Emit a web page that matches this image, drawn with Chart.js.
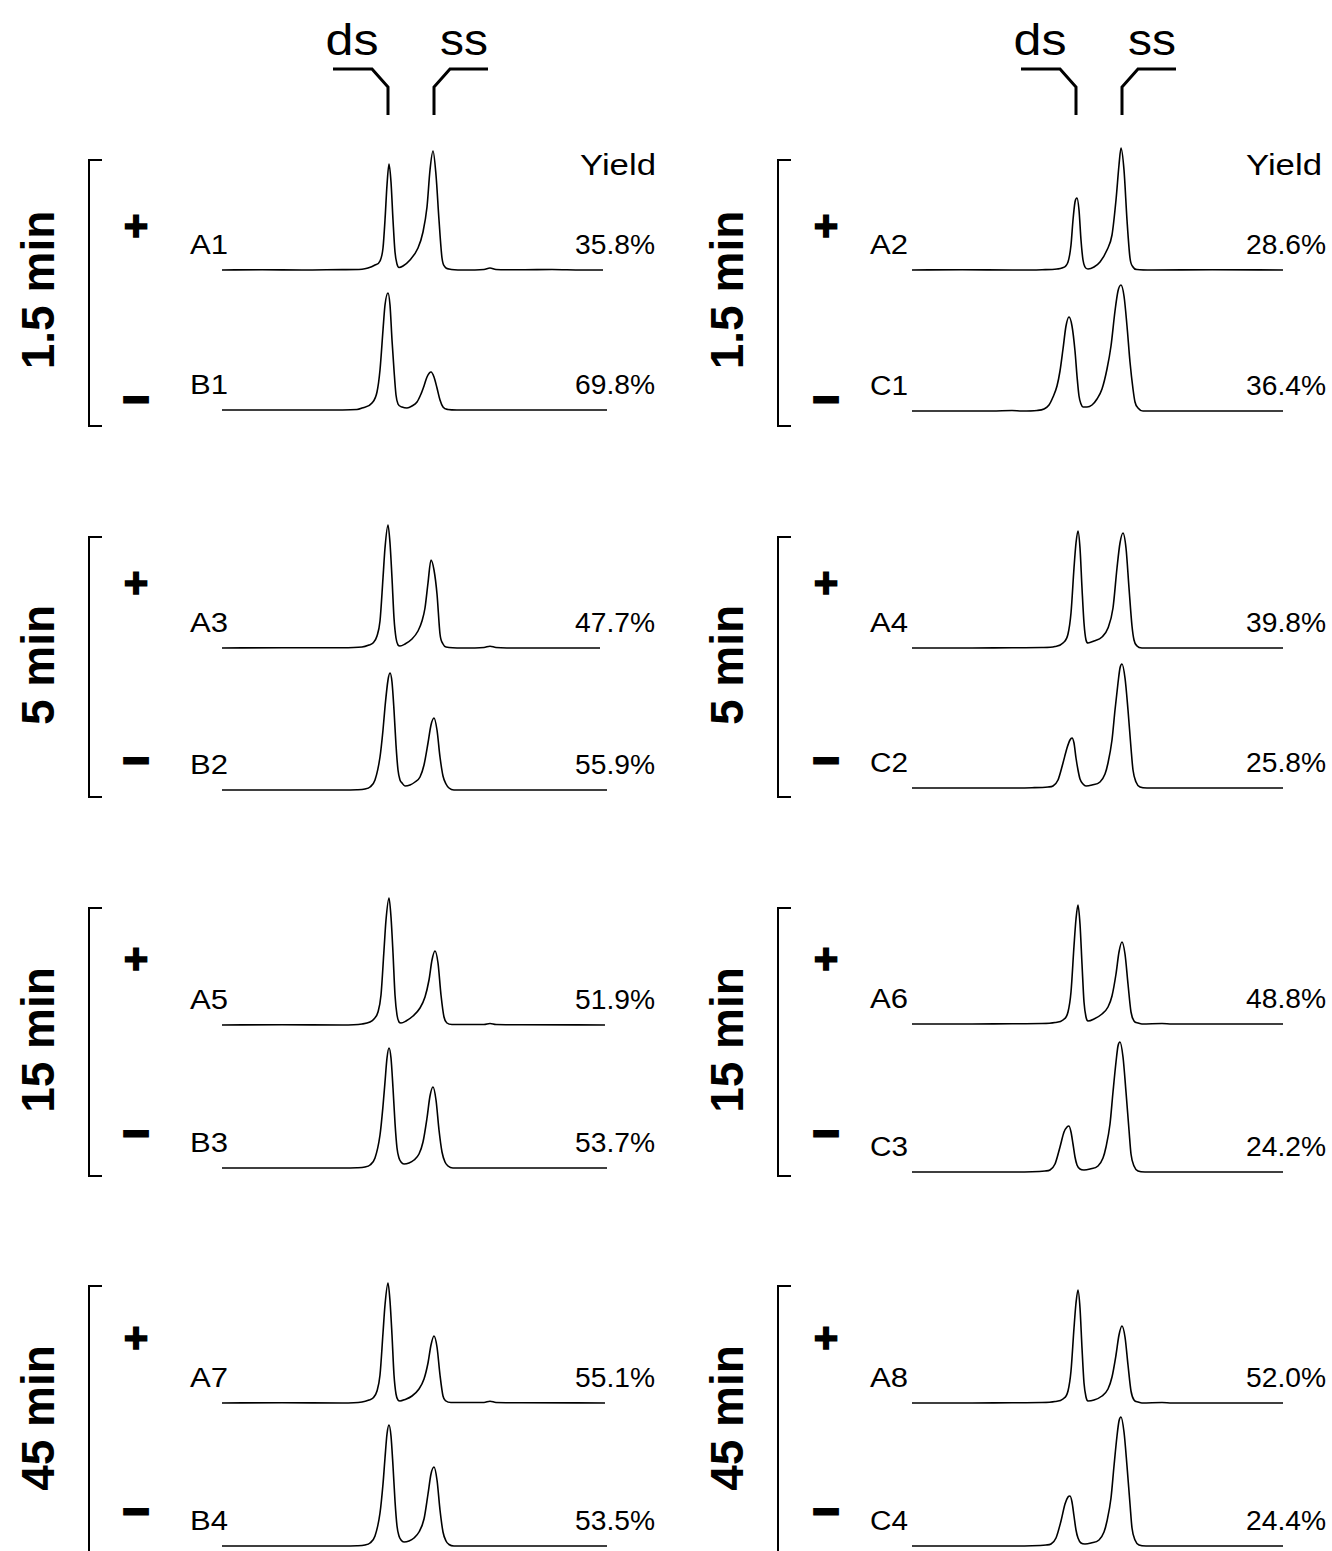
<!DOCTYPE html>
<html>
<head>
<meta charset="utf-8">
<script src="https://cdn.jsdelivr.net/npm/chart.js@4/dist/chart.umd.min.js"></script>
<style>
  html, body { margin: 0; padding: 0; background: #fff; }
  #page { position: relative; width: 1332px; height: 1551px; overflow: hidden; }
  #page canvas { position: absolute; }
  #overlay { position: absolute; left: 0; top: 0; }
  text { font-family: "Liberation Sans", Arial, sans-serif; fill: #000; }
</style>
</head>
<body>
<div id="page"><svg id="overlay" width="1332" height="1551"></svg></div>
<script>
/* ---------- data: traces ([retention, signal]) ---------- */

// left column, "+" runs
const A1 = [[0,0],[40,0.3],[80,0],[120,0.4],[140,0.8],[146,2],[153,5],[158,9],[161,22],[163,50],[165,85],[167,106],[169,88],[171,50],[173,18],[175,6],[177,2.5],[181,4],[188,10],[196,22],[201,38],[205,63],[208,100],[211,119],[214,95],[217,50],[220,12],[223,3],[227,1],[240,0],[262,0.5],[268,2],[274,0.5],[300,0.2],[330,0.5],[360,0],[381,0]];
const A3 = [[0,0],[60,0.3],[120,0.3],[140,1],[147,3],[151,5],[155,12],[158,27],[161,70],[163,100],[166,123],[168,105],[170,70],[172,30],[174,10],[176,3],[178,2],[183,4],[190,9],[196,17],[200,27],[203,40],[206,65],[209,88],[212,78],[215,54],[218,14],[221,4],[224,1],[240,0],[262,0.5],[268,1.8],[274,0.5],[300,0],[378,0]];
const A5 = [[0,0],[60,0.3],[120,0],[140,1],[148,3],[152,6],[156,13],[159,30],[162,75],[164,105],[167,127],[169,108],[171,72],[173,30],[175,10],[177,3],[179,2],[184,4],[191,9],[198,17],[203,28],[207,45],[210,65],[213,74],[216,62],[219,30],[222,8],[225,2],[230,0.5],[262,0.5],[268,1.5],[274,0.5],[300,0.3],[383,0]];
const A7 = [[0,0],[60,0.3],[120,0],[140,1],[147,3],[151,5],[155,12],[158,28],[161,70],[163,98],[166,120],[168,102],[170,68],[172,28],[174,9],[176,3],[178,2],[183,3.5],[190,7],[197,14],[202,24],[206,40],[209,58],[212,67],[215,56],[218,28],[221,7],[224,2],[229,0.5],[262,0.5],[268,1.8],[274,0.5],[300,0.3],[383,0]];

// left column, "-" runs
const B1 = [[0,0],[100,0],[135,0.5],[140,2],[150,7],[155,18],[158,40],[161,80],[163,105],[166,117],[168,105],[170,70],[172,40],[174,15],[176,6],[180,3],[185,2],[190,4],[195,8],[199,16],[202,24],[205,33],[209,38],[212,33],[215,22],[218,10],[221,3],[226,0.5],[235,0],[385,0]];
const B2 = [[0,0],[100,0],[135,0.3],[143,1],[148,3],[153,10],[158,33],[161,60],[163,83],[166,110],[168,117],[170,108],[172,80],[174,45],[176,20],[178,10],[180,7],[183,4],[188,5],[193,8],[198,13],[202,25],[206,47],[209,65],[212,72],[215,60],[218,33],[221,14],[224,6],[227,2],[232,0],[290,0],[385,0]];
const B3 = [[0,0],[100,0],[135,0.3],[143,1],[148,3],[153,10],[158,33],[161,62],[163,86],[165,110],[167,120],[169,110],[171,80],[173,45],[175,20],[177,10],[179,6],[182,4],[187,5],[192,8],[197,14],[201,26],[205,50],[208,72],[211,81],[214,68],[217,38],[220,16],[223,6],[226,2],[231,0],[290,0],[385,0]];
const B4 = [[0,0],[100,0],[135,0.3],[143,1],[148,3],[153,10],[158,33],[161,62],[163,88],[165,112],[167,121],[169,110],[171,80],[173,45],[175,20],[177,10],[179,6],[182,4],[187,5],[192,8],[197,14],[202,27],[206,52],[209,72],[212,79],[215,66],[218,36],[221,14],[224,5],[227,1.5],[232,0],[290,0],[385,0]];

// right column, "+" runs
const A2 = [[0,0],[50,0.3],[100,0],[130,0.3],[145,1],[150,2],[156,8],[159,25],[161,50],[163,68],[165,72],[167,60],[169,30],[171,10],[173,3],[176,1],[182,3],[188,8],[195,20],[200,35],[204,70],[207,105],[209,122],[212,100],[215,50],[218,12],[221,3],[225,0.5],[240,0],[300,0.3],[371,0]];
const A4 = [[0,0],[60,0],[100,0.3],[130,0.5],[143,1.5],[151,5],[156,14],[159,35],[162,80],[164,105],[166,117],[168,100],[170,60],[172,25],[174,8],[176,5],[182,7],[190,11],[196,20],[201,40],[205,80],[208,105],[211,115],[214,100],[217,60],[220,22],[222,8],[225,2],[230,0],[371,0]];
const A6 = [[0,0],[60,0],[100,0.3],[130,0.5],[143,1.5],[151,4],[156,12],[159,32],[162,78],[164,105],[166,119],[168,100],[170,60],[172,22],[174,7],[176,3],[182,5],[190,10],[196,17],[200,28],[204,50],[207,72],[210,82],[213,70],[216,40],[219,12],[222,3],[226,1],[230,0],[250,0.5],[260,0],[371,0]];
const A8 = [[0,0],[60,0],[100,0.3],[130,0.5],[143,1.5],[151,4],[156,12],[159,32],[162,75],[164,100],[166,113],[168,95],[170,55],[172,20],[174,6],[176,2],[182,3],[190,7],[196,14],[200,26],[204,48],[207,68],[210,77],[213,66],[216,38],[219,12],[222,3],[226,1],[230,0],[250,0.5],[260,0],[371,0]];

// right column, "-" runs
const C1 = [[0,0],[80,0],[100,0.5],[110,0],[125,0.5],[132,2],[137,6],[141,14],[145,25],[148,40],[151,62],[154,85],[157,94],[160,85],[163,60],[165,35],[167,15],[169,7],[171,4],[175,4],[180,6],[185,12],[190,22],[195,42],[199,65],[203,100],[206,120],[209,126],[212,115],[215,85],[218,49],[221,22],[223,9],[226,3],[231,0],[371,0]];
const C2 = [[0,0],[80,0],[120,0.3],[136,1],[141,2],[146,8],[151,25],[155,40],[158,48],[160,50],[162,45],[164,30],[166,18],[168,9],[171,4],[174,2],[180,3],[188,6],[193,14],[196,25],[200,48],[203,78],[206,105],[208,120],[210,124],[213,110],[216,78],[219,40],[221,18],[224,6],[228,1],[235,0],[371,0]];
const C3 = [[0,0],[80,0],[120,0.3],[133,1],[138,2],[143,8],[148,25],[152,40],[155,45],[157,46],[159,40],[161,28],[163,15],[165,7],[168,3],[172,2],[178,3],[186,6],[191,14],[194,25],[198,48],[201,80],[204,110],[206,126],[208,130],[211,115],[214,80],[217,42],[219,18],[222,6],[226,1],[233,0],[371,0]];
const C4 = [[0,0],[80,0],[120,0.3],[134,1],[139,2],[144,8],[149,25],[153,42],[156,49],[158,50],[160,44],[162,30],[164,16],[166,8],[169,3],[173,2],[179,3],[187,6],[192,14],[195,25],[199,48],[202,80],[205,110],[207,125],[209,129],[212,114],[215,80],[218,42],[220,18],[223,6],[227,1],[234,0],[371,0]];

// labels
const timeLabels = ["1.5 min", "5 min", "15 min", "45 min"];
const leftPlusRuns = ["A1", "A3", "A5", "A7"];
const leftMinusRuns = ["B1", "B2", "B3", "B4"];
const rightPlusRuns = ["A2", "A4", "A6", "A8"];
const rightMinusRuns = ["C1", "C2", "C3", "C4"];
const leftPlusYield = ["35.8%", "47.7%", "51.9%", "55.1%"];
const leftMinusYield = ["69.8%", "55.9%", "53.7%", "53.5%"];
const rightPlusYield = ["28.6%", "39.8%", "48.8%", "52.0%"];
const rightMinusYield = ["36.4%", "25.8%", "24.2%", "24.4%"];

const TRACES = { A1, A2, A3, A4, A5, A6, A7, A8, B1, B2, B3, B4, C1, C2, C3, C4 };

/* ---------- layout ---------- */

const Y_MIN = -3, Y_MAX = 135;          // signal range shared by all panels
const COLS = [
    { x0: 222, w: 385, label: 190, pct: 655, yield: 656, bracket: 89, sign: 136, time: 38, shift: 0,
      plus: leftPlusRuns, minus: leftMinusRuns, plusY: leftPlusYield, minusY: leftMinusYield,
      plusBase: [270, 648, 1025, 1403], minusBase: [410, 790, 1168, 1546] },
    { x0: 912, w: 371, label: 870, pct: 1326, yield: 1322, bracket: 778, sign: 826, time: 727, shift: 688,
      plus: rightPlusRuns, minus: rightMinusRuns, plusY: rightPlusYield, minusY: rightMinusYield,
      plusBase: [270, 648, 1024, 1403], minusBase: [411, 788, 1172, 1546] }
];
const bracketSpan = [[160, 426], [537, 797], [908, 1176], [1286, 1570]];
const timeCenter = [290, 665, 1040, 1418];
const plusCenter = [225, 582, 958, 1337];
const minusCenter = [396, 757, 1130, 1508];

const page = document.getElementById("page");
const svg = document.getElementById("overlay");
const NS = "http://www.w3.org/2000/svg";

function svgEl(tag, attrs, txt) {
    const e = document.createElementNS(NS, tag);
    for (const k in attrs) e.setAttribute(k, attrs[k]);
    if (txt !== undefined) e.textContent = txt;
    svg.appendChild(e);
    return e;
}

/* ---------- one Chart.js panel per run ---------- */

function drawTrace(name, col, baseline) {
    const h = Y_MAX - Y_MIN;
    const cv = document.createElement("canvas");
    cv.width = col.w;
    cv.height = h;
    cv.style.left = col.x0 + "px";
    cv.style.top = (baseline - Y_MAX) + "px";
    page.appendChild(cv);

    new Chart(cv, {
        type: "line",
        data: {
            datasets: [{
                data: TRACES[name].map(p => ({ x: p[0], y: p[1] })),
                borderColor: "#000",
                borderWidth: 1.6,
                pointRadius: 0,
                fill: false,
                clip: false,
                cubicInterpolationMode: "monotone"
            }]
        },
        options: {
            responsive: false,
            animation: false,
            events: [],
            layout: { padding: 0 },
            plugins: { legend: { display: false }, tooltip: { enabled: false } },
            scales: {
                x: { type: "linear", min: 0, max: col.w, display: false },
                y: { min: Y_MIN, max: Y_MAX, display: false }
            }
        }
    });
}

/* ---------- annotations ---------- */

COLS.forEach(col => {
    // ds / ss markers
    const s = col.shift;
    svgEl("path", { d: `M${333 + s} 69 H${372 + s} L${388 + s} 87 V115`, stroke: "#000", "stroke-width": 3, fill: "none" });
    svgEl("path", { d: `M${434 + s} 115 V87 L${450 + s} 69 H${488 + s}`, stroke: "#000", "stroke-width": 3, fill: "none" });
    svgEl("text", { x: 352 + s, y: 55, "font-size": 44, "text-anchor": "middle", textLength: 53, lengthAdjust: "spacingAndGlyphs" }, "ds");
    svgEl("text", { x: 464 + s, y: 55, "font-size": 44, "text-anchor": "middle", textLength: 48, lengthAdjust: "spacingAndGlyphs" }, "ss");
    svgEl("text", { x: col.yield, y: 175, "font-size": 30, "text-anchor": "end", textLength: 76, lengthAdjust: "spacingAndGlyphs" }, "Yield");

    timeLabels.forEach((t, g) => {
        const [top, bot] = bracketSpan[g];
        const b = col.bracket;
        svgEl("path", { d: `M${b + 13} ${top} H${b} V${bot} H${b + 13}`, stroke: "#000", "stroke-width": 2, fill: "none" });
        svgEl("text", { transform: `translate(${col.time},${timeCenter[g]}) rotate(-90)`, "font-size": 46, "font-weight": "bold",
                        "text-anchor": "middle", "dominant-baseline": "central" }, t);
        svgEl("text", { x: col.sign, y: plusCenter[g], "font-size": 42, "font-weight": "bold", "text-anchor": "middle",
                        "dominant-baseline": "central", stroke: "#000", "stroke-width": 1.5 }, "+");
        svgEl("text", { x: col.sign, y: minusCenter[g], "font-size": 46, "font-weight": "bold", "text-anchor": "middle",
                        "dominant-baseline": "central", stroke: "#000", "stroke-width": 3 }, "\u2013");

        const runs = [[col.plus[g], col.plusY[g], col.plusBase[g]], [col.minus[g], col.minusY[g], col.minusBase[g]]];
        runs.forEach(([name, pct, base]) => {
            drawTrace(name, col, base);
            svgEl("text", { x: col.label, y: base - 16, "font-size": 27, textLength: 38, lengthAdjust: "spacingAndGlyphs" }, name);
            svgEl("text", { x: col.pct, y: base - 16, "font-size": 27, "text-anchor": "end", textLength: 80, lengthAdjust: "spacingAndGlyphs" }, pct);
        });
    });
});
</script>
</body>
</html>
